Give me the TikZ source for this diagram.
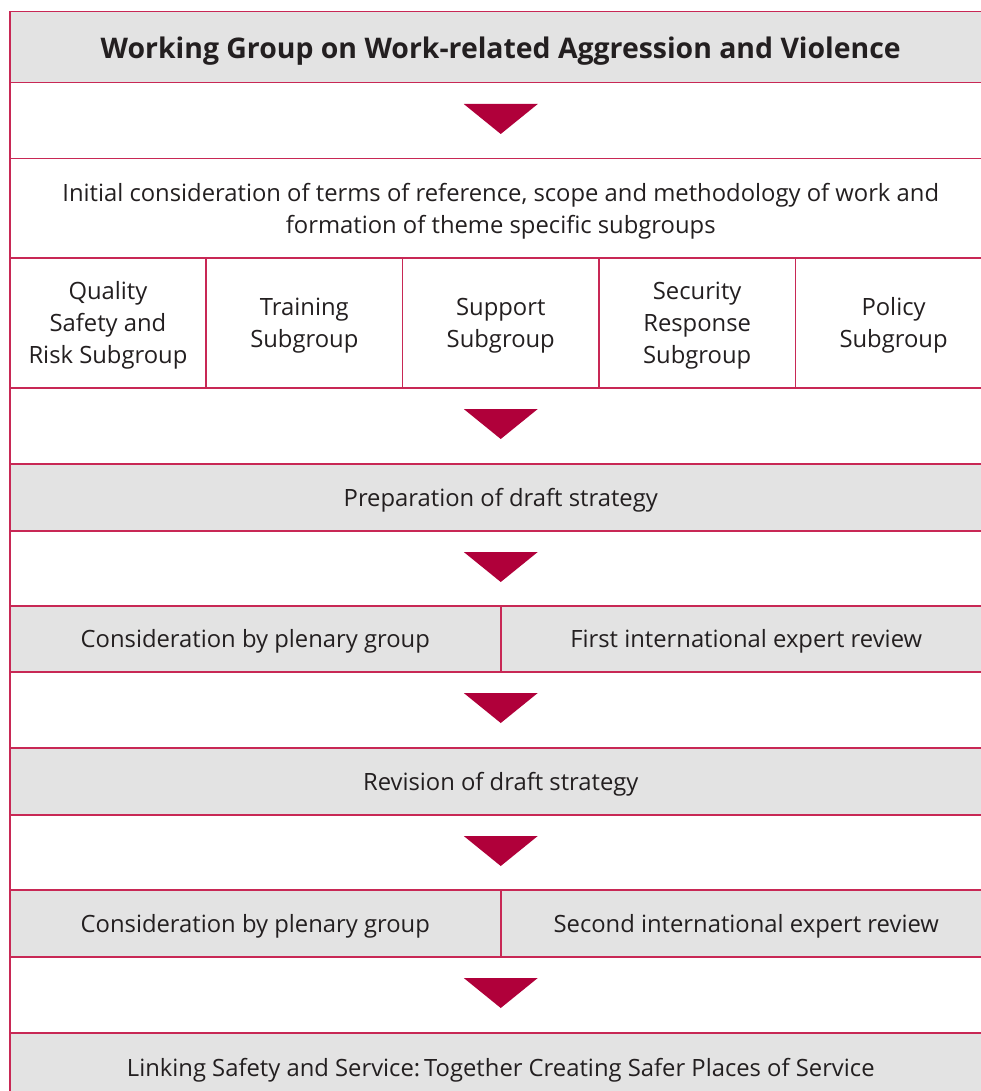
\documentclass[tikz,border=0pt]{standalone}
\usepackage{fontspec}
\setmainfont{Open Sans}
\usetikzlibrary{calc}
\definecolor{crim}{RGB}{200,40,85}
\definecolor{tri}{RGB}{176,0,58}
\definecolor{cellgray}{RGB}{227,227,227}
\definecolor{ink}{RGB}{35,31,32}
\begin{document}
\begin{tikzpicture}[x=1pt,y=-1pt,
  cell/.style={draw=crim, line width=1.5pt, inner sep=0pt, anchor=north west,
    align=center, text=ink, text depth=-2pt, font=\fontsize{23.8}{32}\selectfont},
  graycell/.style={cell, fill=cellgray},
  whitecell/.style={cell, fill=white},
  arrowtri/.style={fill=tri, draw=none}]
\useasboundingbox (0,0) rectangle (981,1091);
% rows
\node[graycell, minimum width=982pt, minimum height=71pt, font=\fontsize{28.4}{32}\selectfont\bfseries] (title) at (9,11) {Working Group on Work-related Aggression and Violence};
\node[whitecell, minimum width=982pt, minimum height=76pt] (a1) at (9,82) {};
\node[whitecell, minimum width=982pt, minimum height=99pt] (init) at (9,158) {Initial consideration of terms of reference, scope and methodology of work and\\ formation of theme specific subgroups};
\node[whitecell, minimum width=196.4pt, minimum height=130pt] (s1) at (9,257) {Quality\\ Safety and\\ Risk Subgroup};
\node[whitecell, minimum width=196.4pt, minimum height=130pt] (s2) at (205.4,257) {Training\\ Subgroup};
\node[whitecell, minimum width=196.4pt, minimum height=130pt] (s3) at (401.8,257) {Support\\ Subgroup};
\node[whitecell, minimum width=196.4pt, minimum height=130pt] (s4) at (598.2,257) {Security\\ Response\\ Subgroup};
\node[whitecell, minimum width=196.4pt, minimum height=130pt] (s5) at (794.6,257) {Policy\\ Subgroup};
\node[whitecell, minimum width=982pt, minimum height=76pt] (a2) at (9,387) {};
\node[graycell, minimum width=982pt, minimum height=67pt] (prep) at (9,463) {Preparation of draft strategy};
\node[whitecell, minimum width=982pt, minimum height=75pt] (a3) at (9,530) {};
\node[graycell, minimum width=491pt, minimum height=66pt] (c1l) at (9,605) {Consideration by plenary group};
\node[graycell, minimum width=491pt, minimum height=66pt] (c1r) at (500,605) {First international expert review};
\node[whitecell, minimum width=982pt, minimum height=76pt] (a4) at (9,671) {};
\node[graycell, minimum width=982pt, minimum height=67pt] (rev) at (9,747) {Revision of draft strategy};
\node[whitecell, minimum width=982pt, minimum height=75pt] (a5) at (9,814) {};
\node[graycell, minimum width=491pt, minimum height=67pt] (c2l) at (9,889) {Consideration by plenary group};
\node[graycell, minimum width=491pt, minimum height=67pt] (c2r) at (500,889) {Second international expert review};
\node[whitecell, minimum width=982pt, minimum height=76pt] (a6) at (9,956) {};
\node[graycell, minimum width=982pt, minimum height=70pt] (final) at (9,1032) {Linking Safety and Service:\,Together Creating Safer Places of Service};
% arrows
\foreach \r in {a1,a2,a3,a4,a5,a6}{
  \fill[arrowtri] ($(\r.north)+(-37,22)$) -- ($(\r.north)+(37,22)$) -- ($(\r.north)+(0,52)$) -- cycle;
}
\end{tikzpicture}
\end{document}
